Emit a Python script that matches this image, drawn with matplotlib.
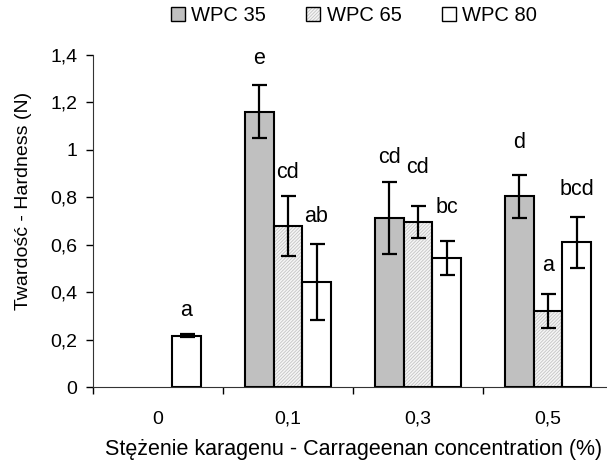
import numpy as np
import matplotlib
matplotlib.use("Agg")
import matplotlib.pyplot as plt
from matplotlib.patches import Patch
from matplotlib.legend_handler import HandlerTuple

plt.rcParams['font.family'] = ['Liberation Sans', 'DejaVu Sans']
plt.rcParams['font.size'] = 14
plt.rcParams['hatch.linewidth'] = 0.6

# data
categories = ["0", "0,1", "0,3", "0,5"]
series = ["WPC 35", "WPC 65", "WPC 80"]
wpc35 = [np.nan, 1.16, 0.713, 0.803]
wpc65 = [np.nan, 0.679, 0.695, 0.319]
wpc80 = [0.217, 0.443, 0.544, 0.609]
err35 = [np.nan, 0.112, 0.152, 0.092]
err65 = [np.nan, 0.126, 0.066, 0.072]
err80 = [0.008, 0.16, 0.07, 0.109]
letters35 = ["", "e", "cd", "d"]
letters65 = ["", "cd", "cd", "a"]
letters80 = ["a", "ab", "bc", "bcd"]
# letter heights (data units)
lab_y35 = [np.nan, 1.385, 0.968, 1.03]
lab_y65 = [np.nan, 0.905, 0.926, 0.514]
lab_y80 = [0.324, 0.72, 0.758, 0.834]

fig = plt.figure(figsize=(6.07, 4.63), dpi=100)
ax = fig.add_axes([0.153, 0.164, 0.857, 0.718])

x = np.arange(len(categories))
w = 0.22
offs = [-w, 0, w]
lw = 1.5
hatch_fc = '#f5f5f5'
hatch_ec = '#c4c4c4'
ekw = dict(ecolor='black', elinewidth=1.6, capsize=5.4, capthick=1.6, fmt='none')

# WPC 35
ax.bar(x + offs[0], wpc35, w, color='#c0c0c0', edgecolor='black', linewidth=lw, zorder=2)
# WPC 65 - fine hatch in light grey, then black outline on top
ax.bar(x + offs[1], wpc65, w, color=hatch_fc, edgecolor=hatch_ec, linewidth=0,
       hatch='//////////', zorder=2)
ax.bar(x + offs[1], wpc65, w, color='none', edgecolor='black', linewidth=lw, zorder=3)
# WPC 80
ax.bar(x + offs[2], wpc80, w, color='white', edgecolor='black', linewidth=lw, zorder=2)

for vals, errs, o in [(wpc35, err35, offs[0]), (wpc65, err65, offs[1]), (wpc80, err80, offs[2])]:
    ax.errorbar(x + o, vals, yerr=errs, zorder=4, **ekw)

for labs, ys, o in [(letters35, lab_y35, offs[0]), (letters65, lab_y65, offs[1]),
                    (letters80, lab_y80, offs[2])]:
    for i, (t, yy) in enumerate(zip(labs, ys)):
        if t:
            ax.text(x[i] + o, yy, t, ha='center', va='center', fontsize=15.5)

ax.set_xlim(-0.5, len(categories) - 0.5)
ax.set_ylim(0, 1.4)
yt = np.arange(0, 1.41, 0.2)
ax.set_yticks(yt)
ax.set_yticklabels([("%.1f" % v).replace('.', ',').replace(',0', '') for v in yt])
ax.set_xticks(x)
ax.set_xticklabels(categories)
ax.set_xticks(np.arange(-0.5, len(categories), 1.0), minor=True)
ax.tick_params(axis='x', which='major', length=0, pad=17)
ax.tick_params(axis='x', which='minor', length=5, width=1, direction='out')
ax.tick_params(axis='y', length=5, width=1, direction='out', pad=6)

for s in ['top', 'right']:
    ax.spines[s].set_visible(False)
ax.spines['left'].set_color('#333333')
ax.spines['bottom'].set_color('#333333')

ax.set_ylabel("Twardość - Hardness (N)", fontsize=14)
ax.yaxis.set_label_coords(-0.117, 0.56)
ax.set_xlabel("Stężenie karagenu - Carrageenan concentration (%)", fontsize=15.5)
ax.xaxis.set_label_coords(0.502, -0.155)

handles = [Patch(facecolor='#c0c0c0', edgecolor='black'),
           (Patch(facecolor=hatch_fc, edgecolor=hatch_ec, linewidth=0, hatch='//////////'),
            Patch(facecolor='none', edgecolor='black')),
           Patch(facecolor='white', edgecolor='black')]
fig.legend(handles, series, loc='center', bbox_to_anchor=(0.583, 0.967), ncol=3,
           frameon=False, handlelength=0.7, handleheight=0.7, handletextpad=0.3,
           columnspacing=2.0, fontsize=14.5,
           handler_map={tuple: HandlerTuple(ndivide=1)})

fig.savefig("out.png", dpi=100)
